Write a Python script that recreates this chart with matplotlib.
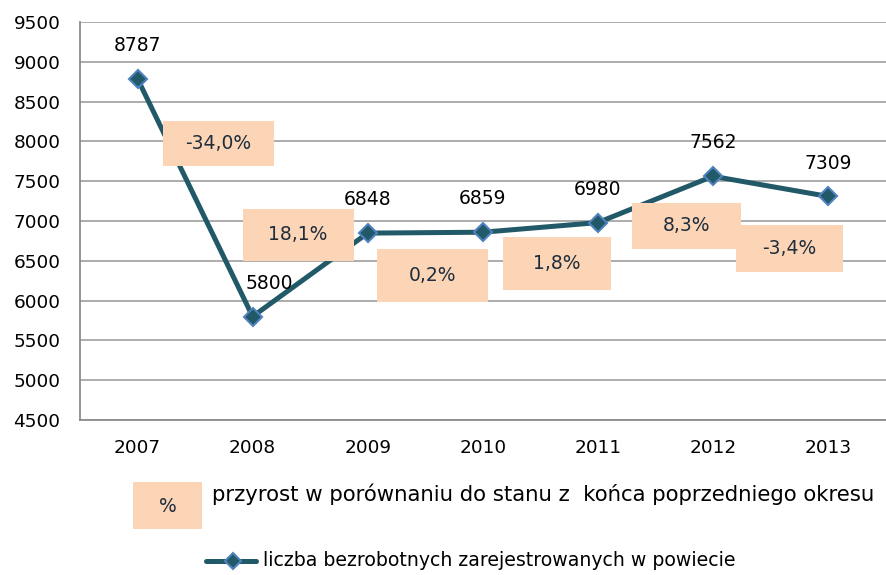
import matplotlib
matplotlib.use("Agg")
import matplotlib.pyplot as plt
from matplotlib.patches import Rectangle
from matplotlib.lines import Line2D

# ---- data ----
years = ["2007", "2008", "2009", "2010", "2011", "2012", "2013"]
unemployed = [8787, 5800, 6848, 6859, 6980, 7562, 7309]
pct_labels = ["-34,0%", "18,1%", "0,2%", "1,8%", "8,3%", "-3,4%"]
legend_pct = "przyrost w porównaniu do stanu z  końca poprzedniego okresu"
legend_line = "liczba bezrobotnych zarejestrowanych w powiecie"

# ---- layout (pixel boxes for the percentage callouts: cx, cy, w, h) ----
W, H = 886, 575
box_px = [(218.5, 143.5, 111, 45), (298.5, 235, 111, 52), (432.5, 275.5, 111, 53),
          (557, 263.5, 108, 53), (686.5, 226, 109, 46), (789.5, 248.5, 107, 47)]
label_dx = [0, 12, 0, 0, 0, 0, 0]

LINE = "#215968"
EDGE = "#4F81BD"
PEACH = "#FBD5B5"
BOXTXT = "#1F2D3D"
GRID = "#A6A6A6"

fig = plt.figure(figsize=(W / 100, H / 100), dpi=100)
ax = fig.add_axes([80 / W, 1 - 420 / H, (885.5 - 80) / W, (420 - 22) / H])

x = list(range(len(years)))
ax.set_xlim(-0.5, len(years) - 0.5)
ax.set_ylim(4500, 9500)
ax.set_yticks(range(4500, 9501, 500))
ax.set_xticks(x)
ax.set_xticklabels(years)
ax.grid(axis="y", color=GRID, lw=1.3)
ax.set_axisbelow(True)
for s in ["top", "right"]:
    ax.spines[s].set_visible(False)
for s in ["left", "bottom"]:
    ax.spines[s].set_color("#8C8C8C")
    ax.spines[s].set_linewidth(1.3)
ax.tick_params(axis="both", length=0, labelsize=13.3, colors="black")
ax.tick_params(axis="y", pad=14)
ax.tick_params(axis="x", pad=14)

ax.plot(x, unemployed, color=LINE, lw=3.6, marker="D", ms=9,
        mfc=LINE, mec=EDGE, mew=1.5, zorder=3, solid_joinstyle="round")

for i, v in enumerate(unemployed):
    ax.annotate(str(v), (i, v), xytext=(label_dx[i], 24), textcoords="offset points",
                ha="center", va="center", fontsize=13.5, color="black", zorder=5)

# pixel -> data conversion for callouts
def px2data(px, py):
    dx = (px - 138) / 115.0
    dy = 9500 - (py - 22) * 5000 / 398.0
    return dx, dy

for (cx, cy, w, h), lab in zip(box_px, pct_labels):
    x0, y1 = px2data(cx - w / 2, cy - h / 2)
    x1, y0 = px2data(cx + w / 2, cy + h / 2)
    ax.add_patch(Rectangle((x0, y0), x1 - x0, y1 - y0, facecolor=PEACH,
                           edgecolor="none", zorder=4))
    mx, my = px2data(cx, cy)
    ax.text(mx, my, lab, ha="center", va="center", fontsize=13.5,
            color=BOXTXT, zorder=5)

# ---- legend (figure pixel coordinates) ----
def fpx(px, py):
    return px / W, 1 - py / H

x0, y0 = fpx(133, 529)
fig.add_artist(Rectangle((x0, y0), 69 / W, 47 / H, facecolor=PEACH,
                         edgecolor="none", transform=fig.transFigure))
fig.text(*fpx(167.5, 507), "%", ha="center", va="center", fontsize=13.5, color=BOXTXT)

t1 = fig.text(*fpx(212, 494), legend_pct, ha="left", va="center", fontsize=14, color="black")

lx0, ly = fpx(206, 561)
lx1, _ = fpx(256, 561)
fig.add_artist(Line2D([lx0, lx1], [ly, ly], color=LINE, lw=3.6,
                      solid_capstyle="round", transform=fig.transFigure))
fig.add_artist(Line2D([fpx(233, 561)[0]], [ly], color=LINE, marker="D", ms=8,
                      mfc=LINE, mec=EDGE, mew=1.5, transform=fig.transFigure))
t2 = fig.text(*fpx(263, 561), legend_line, ha="left", va="center", fontsize=13, color="black")

# fit legend text widths to reference
fig.canvas.draw()
r = fig.canvas.get_renderer()
for t, target in [(t1, 668), (t2, 472)]:
    wcur = t.get_window_extent(r).width
    t.set_fontsize(t.get_fontsize() * target / wcur)

fig.savefig("out.png", dpi=100)
